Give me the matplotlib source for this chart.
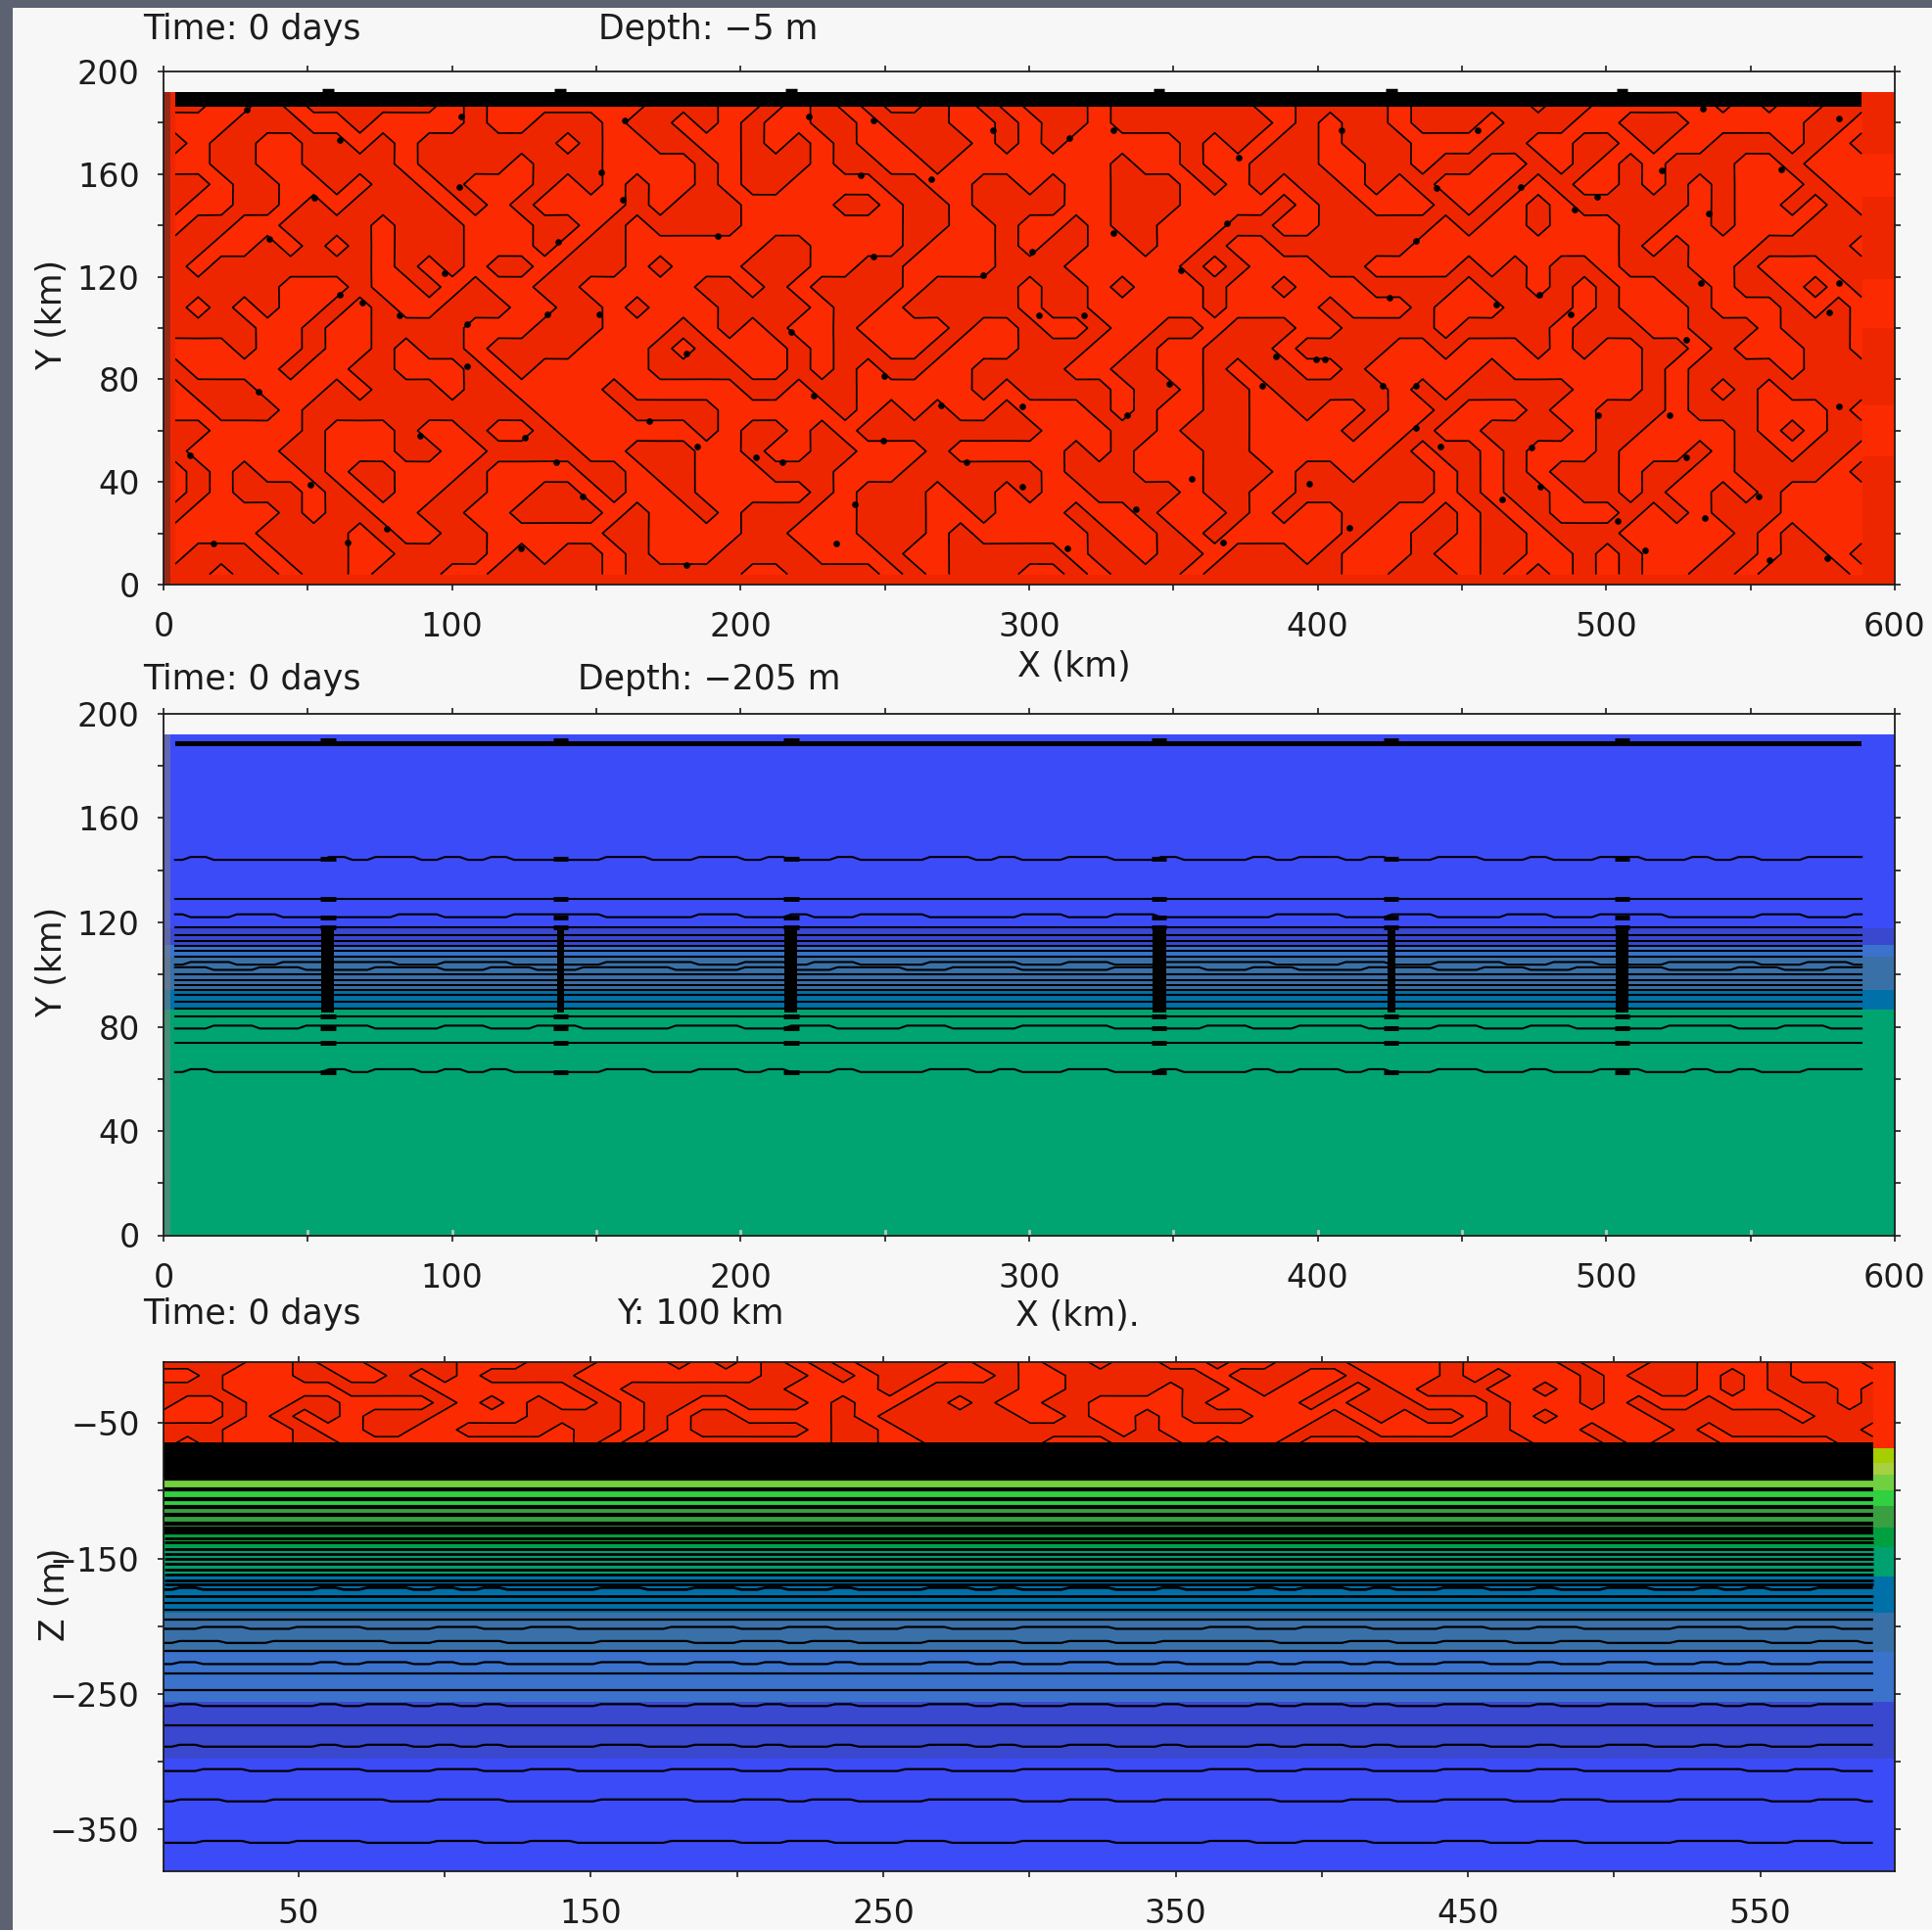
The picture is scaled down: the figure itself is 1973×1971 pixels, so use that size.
import numpy as np
import matplotlib
matplotlib.use("Agg")
import matplotlib.pyplot as plt
from matplotlib.colors import ListedColormap
from matplotlib.patches import Rectangle

# contour field: 8 km nodes, each row lists the gaps
# between nodes where the contour crosses (k = between node k and k+1)
surf_y = [188, 180, 172, 164, 156, 148, 140, 132, 124, 116, 108, 100, 92, 84, 76, 68, 60, 52, 44, 36, 28, 20, 12, 4]
surf_start = [1, 0, 1, 0, 1, 1, 0, 1, 1, 1, 1, 1, 0, 1, 0, 0, 1, 1, 0, 0, 1, 0, 0, 1]
surf_flips = [
    [1,3,4,5,11,12,13,20,23,25,26,27,28,29,30,32,33,34,35,36,39,40,46,48,52,53,58,59,61,66,67,68,69,71],
    [2,5,7,8,12,13,15,18,19,21,22,23,24,25,27,29,30,33,35,36,37,39,40,47,48,49,50,52,53,56,57,60,62,65,70,72],
    [0,1,3,5,7,8,9,10,16,17,18,20,22,24,25,26,27,28,29,31,34,35,36,37,38,43,44,45,46,47,49,50,53,56,58,60,62,63,64,66,69,70,71,72],
    [1,3,5,9,10,14,15,18,22,23,24,27,28,30,32,33,40,41,43,44,46,49,51,53,54,56,58,59,60,61,62,63,64,67,69,70],
    [1,2,4,6,7,8,10,11,12,15,16,17,18,19,20,22,23,24,26,30,32,34,36,37,38,40,43,44,45,46,47,48,50,51,52,53,54,57,58,59,60,62,63,64,65,66,67,70,71],
    [0,2,4,5,6,7,11,12,13,14,15,19,20,21,24,28,30,31,33,34,38,40,43,47,48,49,51,54,55,56,57,58,59,60,65,66,67,69,70,71,72],
    [0,2,4,8,9,12,15,17,18,19,20,24,31,33,35,36,38,39,40,42,45,47,49,54,55,56,58,59,62,64,66,67,70],
    [1,3,4,5,6,7,8,9,12,15,16,17,19,25,27,31,32,35,36,37,39,41,42,44,45,47,53,62,63,64,65,68,72],
    [0,1,8,9,10,11,12,13,15,16,19,20,21,24,27,29,31,35,38,43,44,45,46,49,51,55,56,57,58,59,61,62,65,67,68,71],
    [4,7,8,10,11,12,13,15,17,22,24,25,26,27,31,32,36,37,39,40,41,44,45,47,48,51,55,56,58,59,60,61,62,64,66,67,69,70,71,72],
    [0,1,2,3,4,6,7,8,9,11,14,16,18,19,20,23,27,28,30,31,36,37,39,44,45,49,50,53,54,57,60,61,62,65,66,69,70,71,72],
    [3,5,6,8,12,15,18,21,22,23,24,25,26,28,29,33,34,36,37,39,40,42,44,45,48,50,54,55,59,60,63,65,68,69,72],
    [2,3,5,6,8,9,10,12,13,17,20,21,22,23,26,27,28,30,32,33,36,39,41,42,44,47,48,52,54,55,58,59,60,61,63,65,66,67,70,72],
    [0,4,5,7,9,12,13,14,15,20,24,26,27,28,29,30,32,34,38,40,42,44,45,46,48,50,51,56,57,63,64,65,69,70],
    [0,3,6,7,8,11,12,14,18,19,24,26,27,29,34,35,36,40,41,43,44,46,47,52,53,54,55,60,63,64,65,66,67,68,69],
    [1,4,5,15,19,23,28,29,30,31,32,33,35,36,39,40,41,42,44,46,48,49,51,52,54,55,58,59,61,64,65,68,71,72],
    [1,5,6,9,10,12,13,15,16,22,23,24,26,27,28,29,37,40,42,43,46,50,51,53,54,56,60,61,63,67,68,69,70,71],
    [0,4,6,9,11,13,17,19,22,24,25,27,29,32,33,38,39,40,41,44,46,52,53,54,56,57,58,61,62,65,66,67,69,70,72],
    [0,1,2,3,5,6,7,9,12,13,17,19,20,22,25,28,31,37,38,41,44,47,48,50,51,54,55,56,57,58,59,62,63,65,67,71,72],
    [0,1,2,5,6,7,8,9,11,13,15,17,18,19,21,22,27,28,29,32,33,35,36,37,39,43,44,46,48,54,55,56,57,59,60,62,63,64,66,67,68,69],
    [0,4,5,6,8,10,12,14,18,19,20,22,23,24,27,29,32,34,35,38,39,41,42,45,46,47,48,50,52,54,55,56,57,58,59,62,63,64,65,66,69],
    [3,7,8,9,11,13,18,20,24,26,29,32,33,34,39,40,42,43,44,45,50,51,53,55,56,58,59,62,67,68,69,70],
    [0,3,4,7,9,13,14,15,16,18,19,20,23,27,30,31,33,38,39,41,42,44,45,48,49,50,53,54,56,58,60,61,62,63,66,68,69,71,72],
    [1,2,4,5,7,8,11,13,18,19,24,26,30,31,32,33,36,38,39,40,43,44,50,52,55,56,57,58,59,60,61,62,63,65,67,68,72],
]

# black clumps sitting on the contour lines of the top panel
blob_x = [29, 61, 103, 160, 151.6, 159.3, 52.2, 102.5, 36.7, 136.7, 97.4, 61.2, 69, 81.9, 105.1, 132.9, 150.9, 181.2,
          105.1, 32.8, 9, 168.3, 89, 125.1, 185.1, 50.9, 145.1, 63.8, 17.4, 123.8, 181.2, 77.4, 192.2, 136.1,
          223.5, 246, 313.8, 266, 329.3, 372.5, 241.5, 287.3, 246, 284.1, 300.9, 329.3, 352.5, 368.6, 217.7, 303.5,
          319, 249.9, 225.4, 348.6, 385.4, 399.6, 380.9, 269.3, 297.7, 333.8, 249.3, 205.4, 214.4, 278.3, 297.7,
          356.4, 397, 239.6, 337, 367.3, 233.1, 313.1,
          408.3, 455.4, 533.5, 580.5, 441.2, 470.2, 560.5, 496.7, 519.3, 488.9, 535.4, 434.1, 580.5, 532.8, 476.7,
          425, 461.8, 487.6, 577.3, 527.6, 402.5, 422.5, 434.1, 497.3, 521.8, 580.5, 434.1, 474.1, 442.5, 527.6,
          463.8, 477.3, 503.8, 552.8, 534.1, 410.9, 556.7, 513.4, 576.7]
blob_y = [185, 173.4, 182.3, 181, 160.7, 150, 150.6, 155, 134.7, 133.4, 121.4, 113.1, 110, 104.8, 101.7, 105.5, 105.5, 90.2,
          85.2, 75, 50.2, 63.6, 57.9, 57.2, 54, 38.8, 34.4, 16.6, 16, 14, 7.7, 21.7, 136, 47.7,
          182.3, 181, 174, 158.2, 177.2, 166.4, 159.4, 177.2, 128, 120.5, 129.6, 137.2, 122.6, 141, 98.5, 104.8,
          104.8, 81.4, 73.7, 78.2, 89, 87.7, 77.5, 69.9, 69.3, 66.1, 56, 49.6, 47.7, 47.7, 38.2,
          41.4, 39.5, 31.2, 29.3, 16.6, 16, 14,
          177.2, 177.2, 185.5, 181.7, 154.4, 155, 162, 151.2, 161.3, 146.1, 144.8, 134, 117.5, 117.5, 113.1,
          111.8, 109.3, 105.5, 106.1, 95.3, 87.7, 77.5, 77.5, 66.1, 66.1, 69.3, 61, 53.4, 54, 49.6,
          33.1, 38.2, 24.8, 34.4, 26.1, 22.3, 9.6, 13.4, 10.2]

# same idea for the red layer at the top of the section
sect_z = [-5, -15, -25, -35, -45, -55, -65]
sect_start = [1, 0, 1, 1, 0, 1, 1]
sect_flips = [
    [3,5,6,8,12,15,18,21,22,23,24,25,26,27,28,29,33,34,36,37,39,40,42,44,45,47,50,54,55,59,60,63,65,68,69,72],
    [1,2,5,7,9,10,11,12,13,17,25,27,28,29,30,32,35,36,38,44,45,48,50,51,54,55,56,57,60,61,62,65,66,67,68,69],
    [2,7,11,17,18,19,26,30,31,32,36,38,42,43,45,46,47,49,50,51,52,53,56,58,59,60,61,63,65,66,67,68,71,72],
    [0,2,3,5,7,11,12,13,14,15,16,18,19,20,22,24,27,28,29,31,33,34,35,37,39,43,44,48,49,50,53,56,57,60,61,62,63,65,66,69,71,72],
    [2,3,4,5,6,7,8,11,15,19,20,21,22,24,28,29,30,36,38,39,41,42,43,46,49,50,51,52,53,55,56,57,58,59,63,69,70],
    [2,5,6,8,10,12,16,17,19,20,21,22,27,28,30,31,40,41,42,48,51,55,57,60,61,64,65,66,72],
    [0,1,2,5,7,17,18,19,20,28,30,32,37,40,43,44,45,47,48,51,58,61,62,63,66,71],
]

# panel 1 right hand strip
strip_edges = [0, 50, 70, 100, 119, 151, 168, 192]
strip_vals = [1, 0, 1, 0, 1, 0, 1]

# panel 2
band2_edges = [0, 86.4, 94, 107, 111.4, 117.9, 192]
band2_colors = ["#00a470", "#0070a8", "#3a70a8", "#3a72cc", "#3a48d0", "#3c4bf8"]
lines2_y = [62.6, 73.9, 79.3, 84, 86.8, 89.6, 92.3, 94, 96, 98, 100.2, 102.8, 104.8, 107, 109, 111, 113, 115, 118, 122, 128.9, 144]
eddy_x = [57, 137.5, 217.5, 345, 425.5, 505.5]
eddy_half = [2.2, 1.2, 2.2, 2.4, 1.4, 2.2]

# panel 3
band3_edges = [-381, -298, -256, -219, -190, -163, -142, -127, -111.4, -99.6, -88, -79.5, -68.6, -5]
band3_colors = ["#3c4bf8", "#3a48d0", "#3a72cc", "#3a70a8", "#0070a8", "#00a070", "#00a040", "#38a040",
                "#30d040", "#70d040", "#a8d040", "#a5cf00", "#fb2a00"]
lines3_z = [-91, -99, -106, -112, -118, -124, -128, -131, -135, -138, -143, -147, -150.5, -154, -158, -162,
            -166, -169.4, -173, -178, -183, -188, -195, -202, -211, -218, -228, -235, -247, -259, -273, -289,
            -307, -328, -360]

# small steps along the nearly flat lines, one digit per node
wob_a = "01000001011010100001100110100100011010011001000101101001100100110010100111000"
wob_b = "00110011100011001100001110011000110001111000011001110001100110000111001100110"
wob_c = "10011000001100011110000110010011100001100110000011100110001100111000011001100"

bright = "#fb2a00"
dark = "#ee2600"
ink = "#1c1c1c"
nodes_x = np.linspace(4, 588.5, 74)
W, H = 1974, 1971


def make_field(starts, flips):
    state = np.zeros((len(starts), len(nodes_x)), dtype=int)
    for j in range(len(starts)):
        s = starts[j]
        for i in range(len(nodes_x)):
            state[j, i] = s
            if i in flips[j]:
                s = 1 - s
    # thin features win at a saddle, so a nudge by how few like neighbours a node has
    rows, cols = state.shape
    field = state.astype(float)
    for j in range(rows):
        for i in range(cols):
            same = 0
            for dj, di in [(1, 0), (-1, 0), (0, 1), (0, -1)]:
                a, b = j + dj, i + di
                if 0 <= a < rows and 0 <= b < cols:
                    same += state[a, b] == state[j, i]
                else:
                    same += 1
            nudge = 0.01 * (4 - same)
            field[j, i] += nudge if state[j, i] else -nudge
    return field


def add_panel(left, top, right, bottom):
    ax = fig.add_axes([left / W, 1 - bottom / H, (right - left) / W, (bottom - top) / H])
    ax.set_facecolor("none")
    for s in ax.spines.values():
        s.set_linewidth(1.3)
        s.set_color(ink)
        s.set_zorder(20)
    ax.tick_params(which="both", top=True, right=True, length=4.5, width=1.2, color=ink,
                   labelsize=24, labelcolor=ink, pad=13)
    ax.tick_params(axis="x", pad=15)
    return ax


def put_text(x, y, s, ha="left", **kw):
    fig.text(x / W, 1 - y / H, s, ha=ha, va="center", fontsize=25, color=ink, **kw)


def stepped(xs, y0, wob, amp):
    # flat run around each node with a short ramp between them
    px = np.ravel(np.column_stack([xs - 2.6, xs + 2.6]))
    px = np.clip(px, xs[0], xs[-1])
    vals = y0 + amp * np.array([int(c) for c in wob[:len(xs)]])
    return px, np.repeat(vals, 2)


fig = plt.figure(figsize=(W / 100, H / 100), dpi=100, facecolor="#5d6272")
fig.add_artist(Rectangle((13 / W, 0), 1, 1 - 8 / H, transform=fig.transFigure, color="#f7f7f7", lw=0, zorder=-5))

# top panel
ax1 = add_panel(167, 73, 1935, 597)
ax1.set_xlim(0, 600)
ax1.set_ylim(0, 200)
ax1.axhspan(0, 192, color=bright, lw=0, zorder=0)
ax1.axhspan(0, 4, color=dark, lw=0, zorder=0)
ax1.pcolormesh([588.5, 600], strip_edges, np.array(strip_vals)[:, None], cmap=ListedColormap([bright, dark]),
               vmin=0, vmax=1, zorder=1)
field1 = make_field(surf_start, surf_flips)[::-1]
y1 = np.array(surf_y[::-1])
ax1.contourf(nodes_x, y1, field1, levels=[-0.5, 0.5, 1.5], colors=[bright, dark], zorder=1)
ax1.contour(nodes_x, y1, field1, levels=[0.5], colors="black", linewidths=1.2, zorder=2)
ax1.plot(blob_x, blob_y, linestyle="none", marker="o", ms=4.8, color="black", mew=0, zorder=2)
ax1.axvspan(0, 4, ymax=192 / 200, color=dark, lw=0, zorder=3)
ax1.axvspan(0, 2.5, ymax=192 / 200, color="#7a2c20", alpha=0.75, lw=0, zorder=3)
ax1.fill_between([4, 588.5], 186.3, 192, color="black", lw=0, zorder=4)
for x, h in zip(eddy_x, eddy_half):
    ax1.plot([x - 2, x + 2], [192.6, 192.6], color="black", lw=2.5, solid_capstyle="butt", zorder=4)
ax1.set_xticks(np.arange(0, 601, 100))
ax1.set_xticks(np.arange(50, 600, 100), minor=True)
ax1.set_yticks(np.arange(0, 201, 40))
ax1.set_yticks(np.arange(20, 200, 40), minor=True)

# middle panel
ax2 = add_panel(167, 729, 1935, 1261.5)
ax2.set_xlim(0, 600)
ax2.set_ylim(0, 200)
for lo, hi, c in zip(band2_edges[:-1], band2_edges[1:], band2_colors):
    ax2.axhspan(lo, hi, color=c, lw=0, zorder=0)
ax2.axvspan(0, 2.5, ymax=192 / 200, color="#808080", alpha=0.55, lw=0, zorder=1)
for y in lines2_y:
    if y in (62.6, 79.3, 122, 144):
        px, yy = stepped(nodes_x, y, [wob_a, wob_b, wob_c, wob_a][(62.6, 79.3, 122, 144).index(y)], 1.1)
    elif y in (102.8, 104.8):
        px, yy = stepped(nodes_x, y, wob_b if y == 102.8 else wob_c, -1.0)
    else:
        px, yy = nodes_x, np.full(len(nodes_x), y)
    ax2.plot(px, yy, color="black", lw=1.5, zorder=3)
ax2.fill_between([4, 588.5], 187.6, 189.6, color="black", lw=0, zorder=4)
for x, h in zip(eddy_x, eddy_half):
    ax2.fill_between([x - h, x + h], 85.5, 117, color="black", lw=0, zorder=4)
    for y in [62.6, 73.9, 79.3, 84, 118, 122, 128.9, 144.5, 190]:
        ax2.plot([x - 2.6, x + 2.6], [y, y], color="black", lw=3.5, solid_capstyle="butt", zorder=4)
ax2.set_xticks(np.arange(0, 601, 100))
ax2.set_xticks(np.arange(50, 600, 100), minor=True)
ax2.set_yticks(np.arange(0, 201, 40))
ax2.set_yticks(np.arange(20, 200, 40), minor=True)
for x in np.arange(50, 600, 50):
    ax2.plot([x, x], [0, 1.6], color="#b8c8c0", lw=2, zorder=5)

# bottom panel
ax3 = add_panel(167, 1391, 1935, 1911)
ax3.set_xlim(3.8, 596)
ax3.set_ylim(-381, -5)
for lo, hi, c in zip(band3_edges[:-1], band3_edges[1:], band3_colors):
    ax3.axhspan(lo, hi, color=c, lw=0, zorder=0)
field3 = make_field(sect_start, sect_flips)[::-1]
z3 = np.array(sect_z[::-1])
ax3.contourf(nodes_x, z3, field3, levels=[-0.5, 0.5, 1.5], colors=[bright, dark], zorder=1)
ax3.contour(nodes_x, z3, field3, levels=[0.5], colors="black", linewidths=1.15, zorder=2)
ax3.fill_between([3.8, 588.5], -90, -64, color="black", lw=0, zorder=3)
for z in lines3_z:
    lw = 3.0 if z > -135 else (2.0 if z > -180 else 1.6)
    if z in (-173, -228, -259, -289):
        px, zz = stepped(nodes_x, z, wob_a, 1.4)
    elif z in (-202, -307, -360):
        px, zz = stepped(nodes_x, z, wob_b, 1.4)
    elif z in (-211, -328):
        px, zz = stepped(nodes_x, z, wob_c, -1.4)
    else:
        px, zz = nodes_x, np.full(len(nodes_x), z)
    ax3.plot(px, zz, color="black", lw=lw, solid_capstyle="butt", zorder=4)
ax3.set_xticks(np.arange(50, 551, 100))
ax3.set_xticks(np.arange(100, 550, 100), minor=True)
ax3.set_yticks([-50, -150, -250, -350])
ax3.set_yticks([-100, -200, -300], minor=True)

# headers and axis names
put_text(146, 30, "Time: 0 days")
put_text(611, 30, "Depth: \u22125 m")
put_text(146, 694, "Time: 0 days")
put_text(590, 694, "Depth: \u2212205 m")
put_text(146, 1342, "Time: 0 days")
put_text(630, 1342, "Y: 100 km")
put_text(1097, 681, "X (km)", ha="center")
put_text(1100, 1344, "X (km).", ha="center")
put_text(53, 321, "Y (km)", ha="center", rotation=90)
put_text(53, 982, "Y (km)", ha="center", rotation=90)
put_text(56, 1628, "Z (m)", ha="center", rotation=90)

fig.savefig("out.png", dpi=100, facecolor=fig.get_facecolor())
